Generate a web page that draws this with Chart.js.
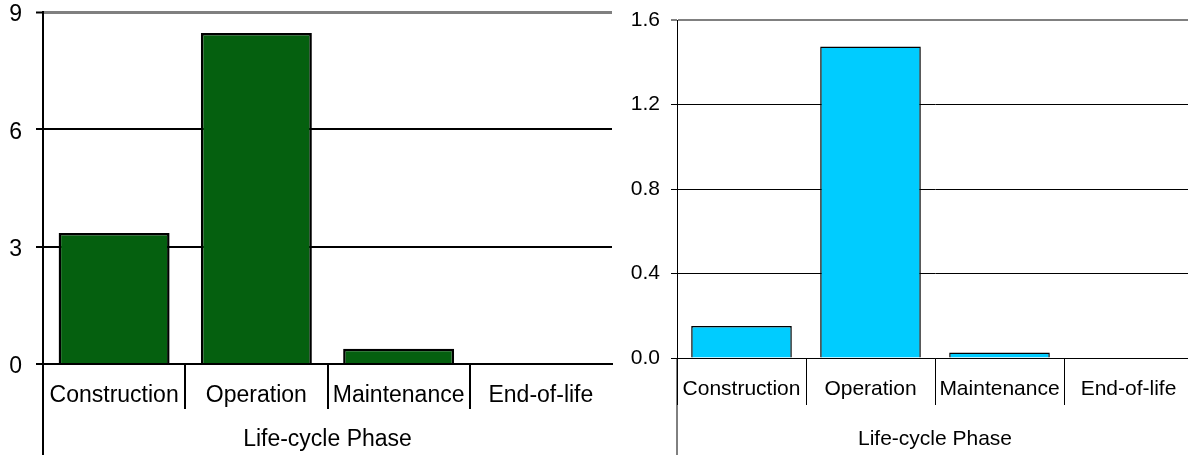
<!DOCTYPE html>
<html>
<head>
<meta charset="utf-8">
<script src="https://cdn.jsdelivr.net/npm/chart.js@4/dist/chart.umd.min.js"></script>
<style>
  body { margin: 0; background: #fff; overflow: hidden; }
  #wrap { position: relative; width: 1188px; height: 455px; overflow: hidden; }
  canvas { position: absolute; top: 0; }
</style>
</head>
<body>
<div id="wrap">
  <canvas id="left" width="620" height="455" style="left:0"></canvas>
  <canvas id="right" width="600" height="455" style="left:600px"></canvas>
</div>
<script>
const phases = ['Construction', 'Operation', 'Maintenance', 'End-of-life'];
const leftValues = [3.35, 8.46, 0.39, 0];
const rightValues = [0.151, 1.474, 0.026, 0];
const leftTicks = [0, 3, 6, 9];
const rightTicks = [0, 0.4, 0.8, 1.2, 1.6];
const axisTitle = 'Life-cycle Phase';

const GRAY = '#808080';
const FONT = '"Liberation Sans", Arial, sans-serif';

// carries the y axis line down past the category labels
const axisDrop = {
  id: 'axisDrop',
  afterDraw(chart, args, opts) {
    const { ctx, chartArea } = chart;
    ctx.save();
    ctx.strokeStyle = '#000';
    ctx.lineWidth = opts.width;
    ctx.beginPath();
    ctx.moveTo(chartArea.left, chartArea.bottom);
    ctx.lineTo(chartArea.left, chart.height);
    ctx.stroke();
    ctx.restore();
  }
};

function makeChart(id, values, ticks, s) {
  const top = ticks[ticks.length - 1];
  return new Chart(document.getElementById(id), {
    type: 'bar',
    data: {
      labels: phases,
      datasets: [{
        data: values,
        backgroundColor: s.fill,
        borderColor: '#000',
        borderWidth: s.line + 0.5,
        borderSkipped: 'start',
        barPercentage: 0.78,
        categoryPercentage: 1
      }]
    },
    plugins: [axisDrop],
    options: {
      responsive: false,
      animation: false,
      events: [],
      layout: { padding: { top: s.top, right: s.right, left: 0, bottom: 0 } },
      plugins: {
        legend: { display: false },
        tooltip: { enabled: false },
        axisDrop: { width: s.line }
      },
      scales: {
        x: {
          afterFit: (scale) => {
            scale.height = s.xHeight;
            scale.paddingLeft = 0;
            scale.paddingRight = 0;
          },
          grid: {
            offset: true,
            drawOnChartArea: false,
            tickLength: s.sepLength,
            lineWidth: s.line,
            color: (c) => c.type === 'tick' ? '#000' : 'rgba(0,0,0,0)'
          },
          border: { color: '#000', width: s.line },
          ticks: {
            color: '#000',
            font: { family: FONT, size: s.font },
            padding: s.labelPad,
            maxRotation: 0,
            autoSkip: false
          },
          title: {
            display: true,
            text: axisTitle,
            color: '#000',
            font: { family: FONT, size: s.titleFont },
            padding: { top: 0, bottom: s.titlePad }
          }
        },
        y: {
          min: 0,
          max: top,
          afterFit: (scale) => {
            scale.width = s.yWidth;
            // top label may overhang the plot edge
            scale.paddingTop = 0;
            scale.paddingBottom = 0;
          },
          afterBuildTicks: (scale) => { scale.ticks = ticks.map((v) => ({ value: v })); },
          grid: {
            color: (c) => c.tick && c.tick.value === top ? GRAY : '#000',
            lineWidth: (c) => c.tick && c.tick.value === top ? s.line + 1 : s.line,
            tickColor: '#000',
            tickWidth: s.line,
            tickLength: s.tickLength
          },
          border: { color: '#000', width: s.line },
          ticks: {
            color: '#000',
            font: { family: FONT, size: s.font },
            padding: s.tickPad,
            labelOffset: s.labelShift,
            callback: (v) => s.digits ? v.toFixed(s.digits) : String(v)
          }
        }
      }
    }
  });
}

makeChart('left', leftValues, leftTicks, {
  fill: '#05600F', line: 2, font: 23, titleFont: 23,
  top: 12, right: 8, xHeight: 91, yWidth: 43,
  sepLength: 45, labelPad: -27, titlePad: 2,
  tickLength: 7, tickPad: 14, labelShift: 3, digits: 0
});

makeChart('right', rightValues, rightTicks, {
  fill: '#00CCFF', line: 1, font: 21, titleFont: 21,
  top: 20, right: 7, xHeight: 97, yWidth: 77,
  sepLength: 47, labelPad: -28, titlePad: 3,
  tickLength: 6, tickPad: 11, labelShift: 0, digits: 1
});
</script>
</body>
</html>
